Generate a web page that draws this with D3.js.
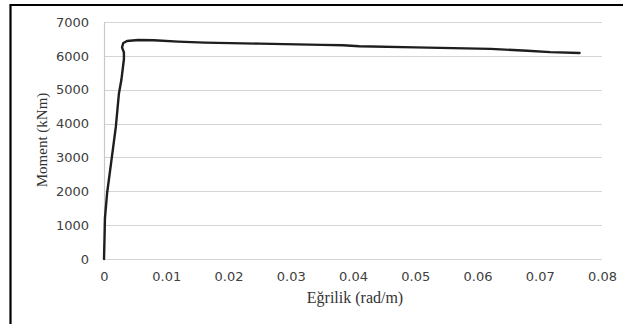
<!DOCTYPE html>
<html>
<head>
<meta charset="utf-8">
<script src="https://cdn.jsdelivr.net/npm/d3@7"></script>
<style>
  html, body { margin: 0; padding: 0; background: #fff; }
  svg { display: block; }
</style>
</head>
<body>
<svg id="chart" width="623" height="324"></svg>
<script>
// Data
const curvature = [0, 0.00008, 0.00015, 0.0005, 0.0012, 0.0019, 0.0024, 0.0028, 0.0032, 0.0032, 0.0029, 0.0031, 0.0037, 0.0055, 0.0080, 0.0119, 0.0162, 0.0250, 0.0350, 0.0384, 0.0410, 0.0500, 0.0621, 0.0680, 0.0717, 0.0764];
const moment    = [0, 600, 1200, 1950, 2920, 3900, 4890, 5300, 5900, 6100, 6250, 6380, 6440, 6470, 6460, 6420, 6390, 6360, 6325, 6315, 6285, 6250, 6205, 6150, 6110, 6085];
const xTicks = [0, 0.01, 0.02, 0.03, 0.04, 0.05, 0.06, 0.07, 0.08];
const yTicks = [0, 1000, 2000, 3000, 4000, 5000, 6000, 7000];
const xTitle = "Eğrilik (rad/m)";
const yTitle = "Moment (kNm)";

const svg = d3.select("#chart");
const mLeft = 104, mRight = 602, mTop = 22, mBottom = 259;

const x = d3.scaleLinear().domain([0, 0.08]).range([mLeft, mRight]);
const y = d3.scaleLinear().domain([0, 7000]).range([mBottom, mTop]);

// frame (top and left edges only)
svg.append("path")
  .attr("d", `M10.5,324 L10.5,5 L623,5`)
  .attr("fill", "none").attr("stroke", "#000").attr("stroke-width", 2.2);

// gridlines
svg.append("g").selectAll("line").data(yTicks).join("line")
  .attr("x1", mLeft).attr("x2", mRight)
  .attr("y1", d => Math.round(y(d)) + 0.5).attr("y2", d => Math.round(y(d)) + 0.5)
  .attr("stroke", "#d4d4d4").attr("stroke-width", 1.2);

// y axis line
svg.append("line")
  .attr("x1", mLeft + 0.5).attr("x2", mLeft + 0.5)
  .attr("y1", mTop).attr("y2", mBottom)
  .attr("stroke", "#c8c8c8").attr("stroke-width", 1.2);

// y tick labels
const yAxis = d3.axisLeft(y).tickValues(yTicks).tickSize(0).tickPadding(15).tickFormat(d3.format("d"));
const gy = svg.append("g").attr("transform", `translate(${mLeft},0)`).call(yAxis);
gy.select(".domain").remove();
gy.selectAll("text")
  .attr("font-family", "DejaVu Sans, sans-serif").attr("font-size", 13)
  .attr("fill", "#404040");

// x tick labels
const xAxis = d3.axisBottom(x).tickValues(xTicks).tickSize(0).tickPadding(13).tickFormat(d => d === 0 ? "0" : d3.format(".2f")(d));
const gx = svg.append("g").attr("transform", `translate(0,${mBottom})`).call(xAxis);
gx.select(".domain").remove();
gx.selectAll("text")
  .attr("font-family", "DejaVu Sans, sans-serif").attr("font-size", 13)
  .attr("fill", "#404040");

// curve
const pts = curvature.map((c, i) => [c, moment[i]]);
svg.append("path")
  .datum(pts)
  .attr("d", d3.line().x(d => x(d[0])).y(d => y(d[1])))
  .attr("fill", "none").attr("stroke", "#1e1e1e").attr("stroke-width", 2.4)
  .attr("stroke-linejoin", "round").attr("stroke-linecap", "round");

// axis titles
svg.append("text")
  .attr("x", 355).attr("y", 303)
  .attr("text-anchor", "middle")
  .attr("font-family", "Liberation Serif, Times New Roman, serif").attr("font-size", 16)
  .attr("fill", "#333")
  .text(xTitle);

svg.append("text")
  .attr("transform", `translate(47,140) rotate(-90)`)
  .attr("text-anchor", "middle")
  .attr("font-family", "Liberation Serif, Times New Roman, serif").attr("font-size", 15)
  .attr("fill", "#333")
  .text(yTitle);
</script>
</body>
</html>
